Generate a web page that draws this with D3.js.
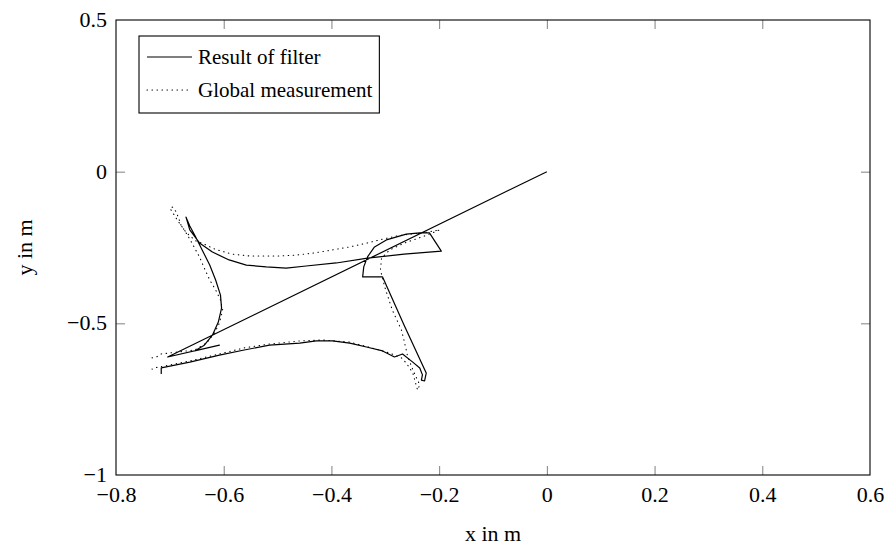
<!DOCTYPE html>
<html>
<head>
<meta charset="utf-8">
<title>Filter vs measurement</title>
<script src="https://cdn.jsdelivr.net/npm/d3@7/dist/d3.min.js"></script>
<style>
  body { margin: 0; background: #fff; }
  svg text { font-family: "Liberation Serif", "Tinos", "Times New Roman", "DejaVu Serif", serif !important; fill: #000; }
</style>
</head>
<body>
<script>
// filter result (x, y in m)
var filterX = [0, -0.704, -0.608, -0.654, -0.636, -0.621, -0.610, -0.604, -0.606, -0.615,
  -0.626, -0.640, -0.653, -0.663, -0.670, -0.663, -0.645, -0.621, -0.590, -0.558,
  -0.521, -0.484, -0.447, -0.391, -0.333, -0.265, -0.196, -0.218, -0.236, -0.261,
  -0.298, -0.320, -0.333, -0.340, -0.342, -0.305, -0.265, -0.224, -0.227, -0.233,
  -0.231, -0.236, -0.249, -0.268, -0.283, -0.305, -0.335, -0.366, -0.398, -0.428,
  -0.459, -0.515, -0.562, -0.608, -0.663, -0.716, -0.716];
var filterY = [0, -0.611, -0.572, -0.591, -0.572, -0.539, -0.496, -0.450, -0.407, -0.357,
  -0.308, -0.258, -0.212, -0.179, -0.150, -0.192, -0.235, -0.265, -0.291, -0.308,
  -0.314, -0.318, -0.311, -0.301, -0.285, -0.272, -0.262, -0.202, -0.202, -0.206,
  -0.225, -0.248, -0.281, -0.314, -0.347, -0.347, -0.506, -0.664, -0.690, -0.687,
  -0.670, -0.647, -0.628, -0.601, -0.611, -0.591, -0.578, -0.565, -0.558, -0.558,
  -0.565, -0.572, -0.588, -0.605, -0.628, -0.647, -0.667];

// global measurement (x, y in m)
var measX = [-0.733, -0.725, -0.716, -0.654, -0.632, -0.617, -0.608, -0.602, -0.606, -0.615,
  -0.626, -0.636, -0.645, -0.660, -0.673, -0.678, -0.688, -0.695, -0.700, -0.686,
  -0.670, -0.652, -0.632, -0.621, -0.612, -0.584, -0.552, -0.528, -0.497, -0.465,
  -0.432, -0.398, -0.366, -0.333, -0.311, -0.279, -0.255, -0.231, -0.199, -0.227,
  -0.264, -0.292, -0.307, -0.309, -0.301, -0.287, -0.270, -0.264, -0.259, -0.251,
  -0.246, -0.242, -0.236, -0.240, -0.249, -0.255, -0.261, -0.270, -0.292, -0.311,
  -0.338, -0.366, -0.416, -0.459, -0.515, -0.562, -0.608, -0.663, -0.710, -0.722, -0.733];
var measY = [-0.614, -0.611, -0.601, -0.588, -0.565, -0.532, -0.499, -0.456, -0.423, -0.390,
  -0.357, -0.318, -0.281, -0.232, -0.192, -0.182, -0.133, -0.117, -0.120, -0.160,
  -0.200, -0.228, -0.242, -0.252, -0.258, -0.272, -0.278, -0.278, -0.278, -0.275,
  -0.268, -0.258, -0.248, -0.235, -0.225, -0.212, -0.206, -0.202, -0.192, -0.212,
  -0.235, -0.258, -0.285, -0.324, -0.380, -0.456, -0.522, -0.565, -0.605, -0.644,
  -0.664, -0.680, -0.703, -0.720, -0.664, -0.647, -0.631, -0.614, -0.598, -0.588,
  -0.575, -0.562, -0.555, -0.558, -0.568, -0.581, -0.601, -0.624, -0.641, -0.644, -0.651];

var xTicks = [-0.8, -0.6, -0.4, -0.2, 0, 0.2, 0.4, 0.6];
var yTicks = [-1, -0.5, 0, 0.5];
var legendLabels = ["Result of filter", "Global measurement"];

var width = 893, height = 549;
var plot = { left: 116, right: 870, top: 20, bottom: 475 };
var fontSize = 22;

var svg = d3.select("body").append("svg")
  .attr("width", width)
  .attr("height", height);

var x = d3.scaleLinear().domain([-0.8, 0.6]).range([plot.left, plot.right]);
var y = d3.scaleLinear().domain([-1, 0.5]).range([plot.bottom, plot.top]);

function fmt(v) {
  return (v < 0 ? "\u2212" : "") + String(Math.abs(v));
}

var tickLen = 9;
var tickColor = "#808080";

// axes: ticks drawn inside on all four sides
function tickAxis(axis, transform) {
  var g = svg.append("g").attr("transform", transform).call(axis);
  g.attr("font-family", null).attr("font-size", fontSize);
  g.select(".domain").remove();
  g.selectAll(".tick line").attr("stroke", tickColor).attr("stroke-width", 1);
  return g;
}

var bottomAx = tickAxis(d3.axisBottom(x).tickValues(xTicks).tickSize(-tickLen).tickFormat(fmt),
  "translate(0," + plot.bottom + ")");
bottomAx.selectAll(".tick text").attr("y", 27).attr("dy", 0);

tickAxis(d3.axisTop(x).tickValues(xTicks).tickSize(-tickLen).tickFormat(""),
  "translate(0," + plot.top + ")");

var leftAx = tickAxis(d3.axisLeft(y).tickValues(yTicks).tickSize(-tickLen).tickFormat(fmt),
  "translate(" + plot.left + ",0)");
leftAx.selectAll(".tick text").attr("x", -9).attr("dy", "0.3em");

tickAxis(d3.axisRight(y).tickValues(yTicks).tickSize(-tickLen).tickFormat(""),
  "translate(" + plot.right + ",0)");

// hide ticks that sit on the frame corners
svg.selectAll(".tick").filter(function (d) { return d === -0.8 || d === 0.6 || d === -1 || d === 0.5; })
  .select("line").remove();

// series
var filterData = filterX.map(function (v, i) { return [v, filterY[i]]; });
var measData = measX.map(function (v, i) { return [v, measY[i]]; });

var line = d3.line()
  .x(function (d) { return x(d[0]); })
  .y(function (d) { return y(d[1]); });

svg.append("path")
  .datum(measData)
  .attr("fill", "none")
  .attr("stroke", "#000")
  .attr("stroke-width", 1.1)
  .attr("stroke-linecap", "round")
  .attr("stroke-dasharray", "0.5,4.5")
  .attr("d", line);

svg.append("path")
  .datum(filterData)
  .attr("fill", "none")
  .attr("stroke", "#000")
  .attr("stroke-width", 1.2)
  .attr("stroke-linejoin", "round")
  .attr("d", line);

// frame
svg.append("rect")
  .attr("x", plot.left).attr("y", plot.top)
  .attr("width", plot.right - plot.left).attr("height", plot.bottom - plot.top)
  .attr("fill", "none").attr("stroke", "#000").attr("stroke-width", 1.1);

// axis labels
svg.append("text")
  .attr("x", (plot.left + plot.right) / 2).attr("y", 541)
  .attr("text-anchor", "middle").attr("font-size", fontSize)
  .text("x in m");

svg.append("text")
  .attr("transform", "translate(32," + ((plot.top + plot.bottom) / 2) + ") rotate(-90)")
  .attr("text-anchor", "middle").attr("font-size", fontSize)
  .text("y in m");

// legend
var legend = svg.append("g");
var legendBox = legend.append("rect")
  .attr("x", 139).attr("y", 36).attr("height", 77)
  .attr("fill", "#fff").attr("stroke", "#000").attr("stroke-width", 1.1);

var rowY = [57, 90];
var maxW = 0;
legendLabels.forEach(function (lab, i) {
  var ln = legend.append("line")
    .attr("x1", 147).attr("x2", 192)
    .attr("y1", rowY[i]).attr("y2", rowY[i])
    .attr("stroke", "#000");
  if (i === 0) ln.attr("stroke-width", 1.2);
  else ln.attr("stroke-width", 1.1).attr("stroke-linecap", "round").attr("stroke-dasharray", "0.5,4.5");
  var t = legend.append("text")
    .attr("x", 198).attr("y", rowY[i] + 7)
    .attr("font-size", 21)
    .text(lab);
  maxW = Math.max(maxW, t.node().getComputedTextLength());
});
legendBox.attr("width", 198 + maxW + 7 - 139);
</script>
</body>
</html>
